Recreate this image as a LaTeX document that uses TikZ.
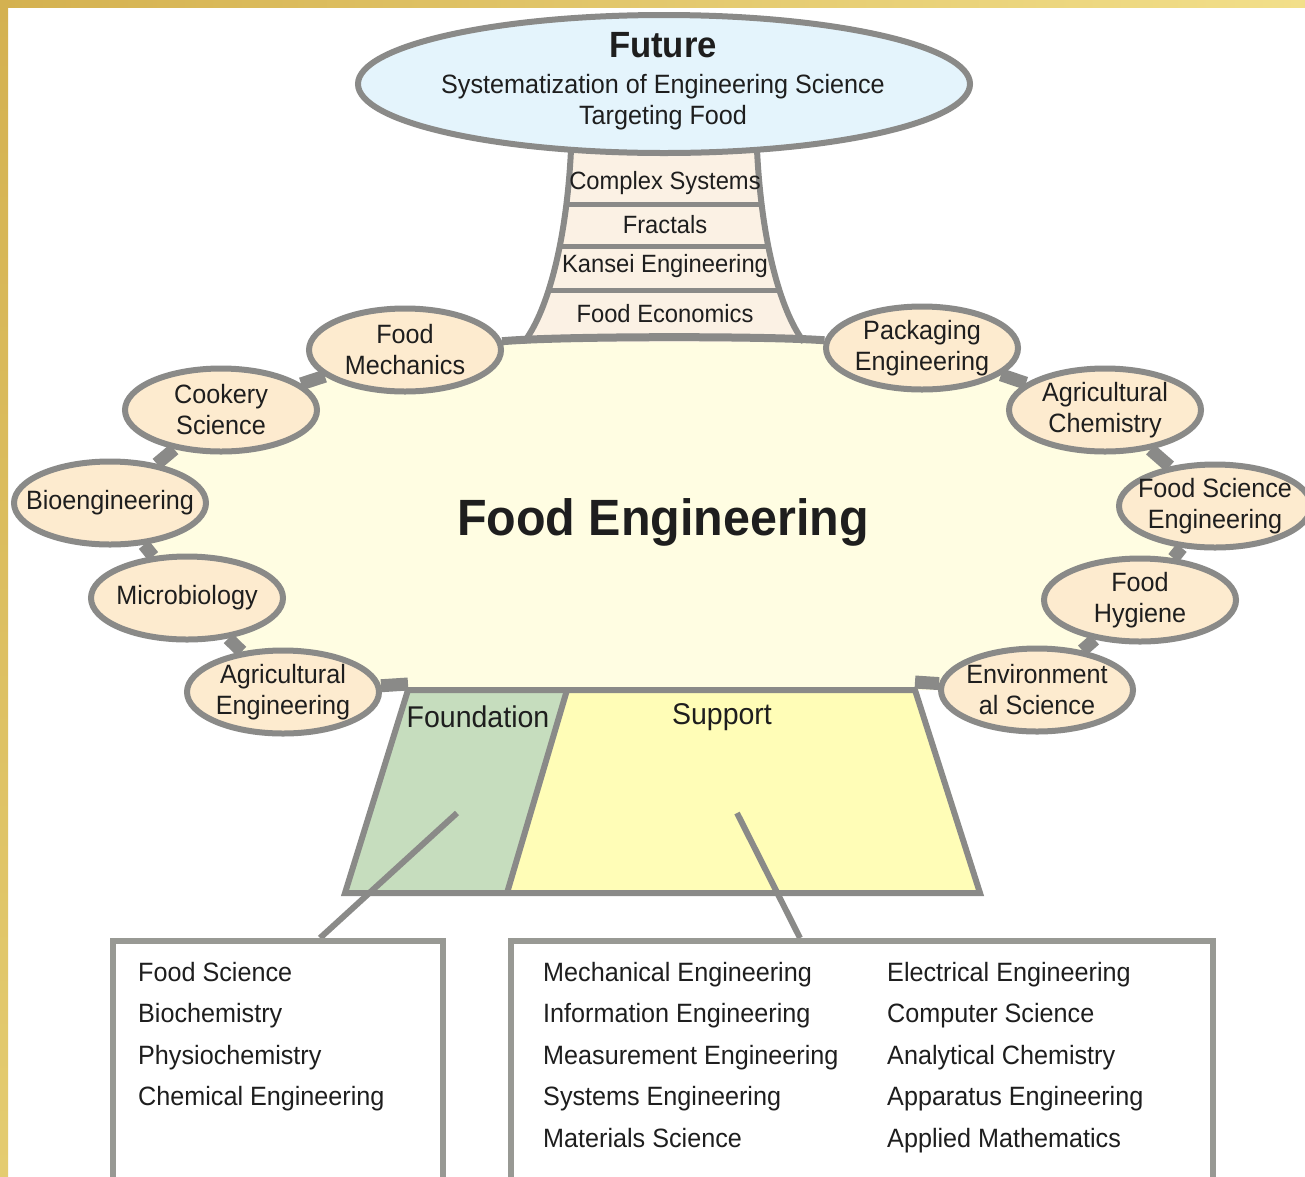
\documentclass[tikz,border=0pt]{standalone}
\usepackage{fontspec}
\setmainfont{Liberation Sans}[FakeStretch=0.95]
\usetikzlibrary{shapes.geometric,positioning,backgrounds}
\definecolor{golddark}{RGB}{212,177,80}
\definecolor{goldlight}{RGB}{242,223,138}
\definecolor{goldmid}{RGB}{228,204,112}
\definecolor{rimgray}{RGB}{138,138,136}
\definecolor{boxgray}{RGB}{152,153,148}
\definecolor{bubblefill}{RGB}{253,235,207}
\definecolor{corefill}{RGB}{255,253,226}
\definecolor{futureblue}{RGB}{228,244,252}
\definecolor{funnelcream}{RGB}{251,241,228}
\definecolor{basegreen}{RGB}{198,221,190}
\definecolor{baseyellow}{RGB}{255,253,183}
\definecolor{inkblack}{RGB}{30,30,30}

\begin{document}
\begin{tikzpicture}[
    x=1pt, y=-1pt,
    every node/.style={text=inkblack, inner sep=0pt},
    bubble/.style={ellipse, draw=rimgray, line width=6pt, fill=bubblefill, minimum width=192pt, minimum height=83pt, inner xsep=-40pt, inner ysep=-12pt, align=center, font=\fontsize{26.5}{31}\selectfont},
    future/.style={ellipse, draw=rimgray, line width=6pt, fill=futureblue, minimum width=612pt, minimum height=138pt},
    link/.style={draw=rimgray, line width=13pt},
    rim/.style={draw=rimgray, line width=8pt},
    wall/.style={draw=rimgray, line width=6pt},
    rung/.style={font=\fontsize{25}{30}\selectfont},
    leader/.style={draw=rimgray, line width=6pt},
    listbox/.style={rectangle, draw=boxgray, line width=6pt, fill=white, anchor=north west},
    listtext/.style={align=left, anchor=north west, font=\fontsize{26.5}{41.5}\selectfont}
]
\useasboundingbox (0,0) rectangle (1305,1176);

% Gold frame
\shade[left color=golddark, right color=goldlight] (0,0) rectangle (1305,7);
\shade[top color=golddark, bottom color=goldmid] (0,0) rectangle (8,1176);

% Ring of neighbouring fields
\node[bubble] (mech) at (405,350) {Food\\Mechanics};
\node[bubble] (cook) at (221,410) {Cookery\\Science};
\node[bubble] (bio) at (110,503) {Bioengineering};
\node[bubble] (micro) at (187,598) {Microbiology};
\node[bubble] (agreng) at (283,692) {Agricultural\\Engineering};
\node[bubble] (pack) at (922,348) {Packaging\\Engineering};
\node[bubble] (agrchem) at (1105,410) {Agricultural\\Chemistry};
\node[bubble] (fse) at (1215,506) {Food Science\\Engineering};
\node[bubble] (hyg) at (1140,600) {Food\\Hygiene};
\node[bubble] (env) at (1037,690) {Environment\\al Science};

% Base trapezoid
\coordinate (tl) at (408,690);
\coordinate (tr) at (915,690);
\coordinate (br) at (980,893);
\coordinate (bl) at (345,893);
\coordinate (mt) at (567,690);
\coordinate (mb) at (507,893);
\fill[basegreen] (tl) -- (mt) -- (mb) -- (bl) -- cycle;
\fill[baseyellow] (mt) -- (tr) -- (br) -- (mb) -- cycle;
\draw[wall] (tl) -- (tr) -- (br) -- (bl) -- cycle;
\draw[wall] (mt) -- (mb);
\node[font=\fontsize{30}{36}\selectfont] (found) at (478,717) {Foundation};
\node[font=\fontsize{30}{36}\selectfont] (supp) at (722,717) {Support};

% Core area, links and funnel
\begin{scope}[on background layer]
\fill[white] (0,0) rectangle (1305,1176);
\fill[corefill] (mech.center) .. controls (560,336) and (770,336) .. (pack.center) -- (agrchem.center) -- (fse.center) -- (hyg.center) -- (env.center) -- (tr) -- (tl) -- (agreng.center) -- (micro.center) -- (bio.center) -- (cook.center) -- cycle;
\draw[link] (cook) -- (mech);
\draw[link] (bio) -- (cook);
\draw[link] (micro) -- (bio);
\draw[link] (agreng) -- (micro);
\draw[link] (agreng) -- ([yshift=6pt]tl);
\draw[link] (pack) -- (agrchem);
\draw[link] (agrchem) -- (fse);
\draw[link] (fse) -- (hyg);
\draw[link] (hyg) -- (env);
\draw[link] (env) -- ([yshift=8pt]tr);
\fill[funnelcream] (571,150) .. controls (566,250) and (545,315) .. (524,342) -- (804,342) .. controls (783,315) and (762,250) .. (757,150) -- cycle;
\begin{scope}
\clip (571,150) .. controls (566,250) and (545,315) .. (524,342) -- (804,342) .. controls (783,315) and (762,250) .. (757,150) -- cycle;
\draw[rimgray, line width=5pt] (500,204) -- (830,204);
\draw[rimgray, line width=5pt] (500,246) -- (830,246);
\draw[rimgray, line width=5pt] (500,290) -- (830,290);
\end{scope}
\draw[wall] (571,150) .. controls (566,250) and (545,315) .. (524,342);
\draw[wall] (757,150) .. controls (762,250) and (783,315) .. (804,342);
\draw[rim] (mech) .. controls (560,336) and (770,336) .. (pack);
\end{scope}

% Funnel steps
\node[rung] (complex) at (665,183) {Complex Systems};
\node[rung] (fractals) at (665,225) {Fractals};
\node[rung] (kansei) at (665,266) {Kansei Engineering};
\node[rung] (econ) at (665,314) {Food Economics};

% Future
\node[future] (fut) at (664,84) {};
\node[font=\fontsize{36.5}{40}\selectfont\bfseries] (futtitle) at (663,45) {Future};
\node[align=center, font=\fontsize{26.5}{31}\selectfont] (futsub) at (663,102) {Systematization of Engineering Science\\Targeting Food};

% Centre title
\node[font=\fontsize{51}{60}\selectfont\bfseries] (core) at (663,522) {Food Engineering};

% Leaders down to the lists
\coordinate (fpin) at (457,813);
\coordinate (spin) at (737,813);
\coordinate (ftop) at (320,938);
\coordinate (stop) at (800,938);
\draw[leader] (fpin) -- (ftop);
\draw[leader] (spin) -- (stop);

% Lists
\node[listbox, minimum width=330pt, minimum height=280pt] (fbox) at (110,938) {};
\node[listbox, minimum width=702pt, minimum height=280pt] (sbox) at (508,938) {};
\node[listtext] (flist) at (138,962) {Food Science\\Biochemistry\\Physiochemistry\\Chemical Engineering};
\node[listtext] (slist) at (543,962) {Mechanical Engineering\\Information Engineering\\Measurement Engineering\\Systems Engineering\\Materials Science};
\node[listtext] (tlist) at (887,962) {Electrical Engineering\\Computer Science\\Analytical Chemistry\\Apparatus Engineering\\Applied Mathematics};
\end{tikzpicture}
\end{document}
